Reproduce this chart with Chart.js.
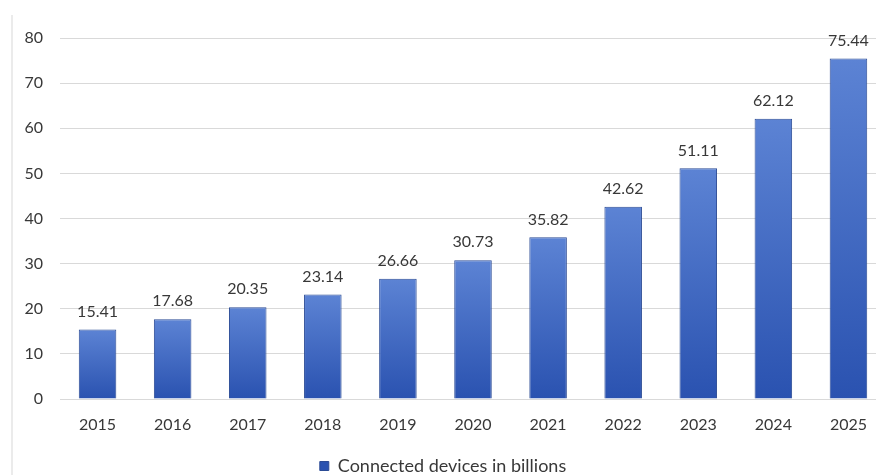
<!DOCTYPE html>
<html>
<head>
<meta charset="utf-8">
<script src="https://cdn.jsdelivr.net/npm/chart.js@4"></script>
<style>
  html, body { margin: 0; padding: 0; background: #fff; overflow: hidden; }
  #frame { position: relative; width: 876px; height: 475px; overflow: hidden; }
  #edge { position: absolute; left: 11px; top: 15px; width: 2px; height: 460px; background: #ebebeb; }
  #wrap { position: absolute; left: 0; top: 0; width: 886px; height: 475px; }
</style>
</head>
<body>
<div id="frame">
  <div id="edge"></div>
  <div id="wrap"><canvas id="devices"></canvas></div>
</div>
<script>
/* connected devices chart */

var years = ["2015", "2016", "2017", "2018", "2019", "2020", "2021", "2022", "2023", "2024", "2025"];
var devices = [15.41, 17.68, 20.35, 23.14, 26.66, 30.73, 35.82, 42.62, 51.11, 62.12, 75.44];
var yTicks = [0, 10, 20, 30, 40, 50, 60, 70, 80];

var textColor = '#383838';
var fontName = 'Lato, "Open Sans", sans-serif';

// gradient per bar, light at top, dark at the base
function barFill(ctx) {
    var chart = ctx.chart;
    if (!chart.chartArea || ctx.raw === undefined) return '#3358b3';
    var y = chart.scales.y;
    var top = y.getPixelForValue(ctx.raw);
    var base = y.getPixelForValue(0);
    var g = chart.ctx.createLinearGradient(0, top, 0, base);
    g.addColorStop(0, '#5c83d4');
    g.addColorStop(1, '#2a52b0');
    return g;
}

// value labels above each bar
var valueLabels = {
    id: 'valueLabels',
    afterInit: function(chart) {
        // drop the extra 10px the legend keeps under its row
        var fit = chart.legend.fit;
        chart.legend.fit = function() {
            fit.call(this);
            this.height -= 10;
        };
    },
    afterDatasetsDraw: function(chart) {
        var c = chart.ctx;
        var meta = chart.getDatasetMeta(0);
        c.save();
        c.font = '16px ' + fontName;
        c.fillStyle = textColor;
        c.textAlign = 'center';
        c.textBaseline = 'bottom';
        meta.data.forEach(function(bar, i) {
            c.fillText(devices[i].toFixed(2), bar.x, bar.y - 10);
        });
        c.restore();
    }
};

var devicesChart = new Chart(document.getElementById("devices"), {
    type: 'bar',
    data: {
        labels: years,
        datasets: [{
            label: 'Connected devices in billions',
            data: devices,
            backgroundColor: barFill,
            borderColor: '#2b4b95',
            borderWidth: 1,
            categoryPercentage: 1,
            barPercentage: 0.5
        }]
    },
    options: {
        responsive: true,
        maintainAspectRatio: false,
        animation: false,
        layout: {
            padding: { top: 38, bottom: 0, left: 0, right: 0 }
        },
        plugins: {
            legend: {
                position: 'bottom',
                labels: {
                    color: textColor,
                    font: { family: fontName, size: 18 },
                    boxWidth: 9,
                    boxHeight: 9,
                    padding: 8
                }
            },
            tooltip: { enabled: false }
        },
        scales: {
            x: {
                afterFit: function(scale) { scale.height = 50; },
                grid: { display: false, drawTicks: false },
                border: { display: false },
                ticks: {
                    color: textColor,
                    font: { family: fontName, size: 16 },
                    padding: 16
                }
            },
            y: {
                min: 0,
                max: 80,
                afterFit: function(scale) { scale.width = 60; },
                afterBuildTicks: function(scale) {
                    scale.ticks = yTicks.map(function(v) { return { value: v }; });
                },
                grid: { color: '#d9d9d9', lineWidth: 1, drawTicks: false },
                border: { display: false },
                ticks: {
                    color: textColor,
                    font: { family: fontName, size: 16 },
                    padding: 17
                }
            }
        }
    },
    plugins: [valueLabels]
});
</script>
</body>
</html>
